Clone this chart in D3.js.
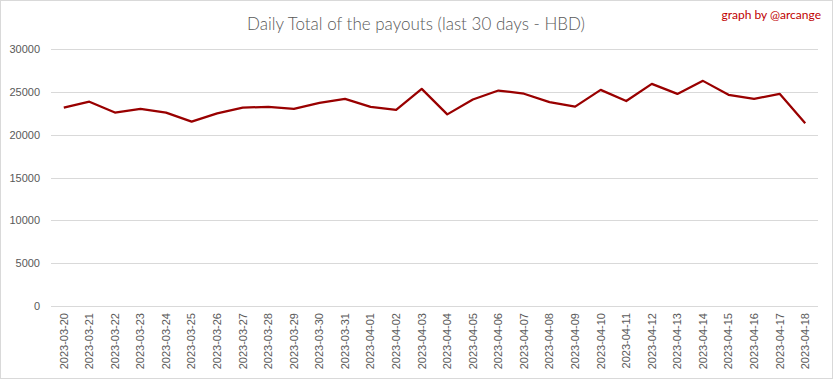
<!DOCTYPE html>
<html>
<head>
<meta charset="utf-8">
<script src="https://cdn.jsdelivr.net/npm/d3@7"></script>
<style>
  body { margin: 0; background: #fff; }
</style>
</head>
<body>
<svg id="chart" width="833" height="379"></svg>
<script>
// data
let dates = ["2023-03-20","2023-03-21","2023-03-22","2023-03-23","2023-03-24","2023-03-25","2023-03-26","2023-03-27","2023-03-28","2023-03-29",
             "2023-03-30","2023-03-31","2023-04-01","2023-04-02","2023-04-03","2023-04-04","2023-04-05","2023-04-06","2023-04-07","2023-04-08",
             "2023-04-09","2023-04-10","2023-04-11","2023-04-12","2023-04-13","2023-04-14","2023-04-15","2023-04-16","2023-04-17","2023-04-18"];
let payouts = [23150, 23850, 22580, 23020, 22580, 21520, 22480, 23160, 23250, 23000,
               23700, 24180, 23250, 22900, 25350, 22370, 24100, 25150, 24780, 23800,
               23270, 25230, 23930, 25930, 24760, 26280, 24650, 24180, 24770, 21320];
let yTicks = [0, 5000, 10000, 15000, 20000, 25000, 30000];

let svg = d3.select("svg#chart");
let margin = { top: 49, right: 15, bottom: 73, left: 51 };
let svg_width = +svg.attr("width");
let svg_height = +svg.attr("height");
let chartWidth = 818 - margin.left;
let chartHeight = 306 - margin.top;

// outer frame
svg.append("rect")
    .attr("x", 0.5).attr("y", 0.5)
    .attr("width", svg_width - 1).attr("height", svg_height - 1)
    .attr("fill", "#fff").attr("stroke", "#d9d9d9");

const xScale = d3.scaleBand().domain(dates).range([0, chartWidth]);
const yScale = d3.scaleLinear().domain([0, 30000]).range([chartHeight, 0]);

let g = svg.append("g")
    .attr("transform", "translate(" + margin.left + "," + margin.top + ")");

// gridlines
g.selectAll("line.grid")
    .data(yTicks)
    .enter().append("line")
    .attr("class", "grid")
    .attr("x1", 0).attr("x2", chartWidth)
    .attr("y1", d => Math.round(yScale(d)) + 0.5)
    .attr("y2", d => Math.round(yScale(d)) + 0.5)
    .attr("stroke", "#d9d9d9").attr("stroke-width", 1);

// Y axis labels
let leftAxis = d3.axisLeft(yScale).tickValues(yTicks).tickSize(0).tickPadding(11).tickFormat(d3.format("d"));
let yAxis = g.append("g").attr("class", "y axis").call(leftAxis);
yAxis.select(".domain").remove();
yAxis.selectAll("text")
    .attr("fill", "#595959")
    .style("font-family", "'Liberation Sans', Arial, sans-serif")
    .style("font-size", "11px");

// X axis labels, rotated
let bottomAxis = d3.axisBottom(xScale).tickSize(0);
let xAxis = g.append("g")
    .attr("class", "x axis")
    .attr("transform", "translate(0," + chartHeight + ")")
    .call(bottomAxis);
xAxis.select(".domain").remove();
xAxis.selectAll("text")
    .attr("fill", "#595959")
    .style("font-family", "'Liberation Sans', Arial, sans-serif")
    .style("font-size", "11px")
    .attr("text-anchor", "end")
    .attr("dy", "0.35em")
    .attr("dx", 0)
    .attr("y", 0)
    .attr("transform", "translate(0,7) rotate(-90)");

// the line
let payLine = d3.line()
    .x((d, i) => xScale(dates[i]) + xScale.bandwidth() / 2)
    .y(d => yScale(d));
g.append("path")
    .datum(payouts)
    .attr("fill", "none")
    .attr("stroke", "#990000")
    .attr("stroke-width", 2.25)
    .attr("stroke-linejoin", "round")
    .attr("d", payLine);

// title and credit
svg.append("text")
    .attr("x", 416).attr("y", 30)
    .attr("text-anchor", "middle")
    .attr("fill", "#595959")
    .style("font-family", "Lato, 'Open Sans', sans-serif")
    .style("font-weight", 300)
    .style("font-size", "17px")
    .text("Daily Total of the payouts (last 30 days - HBD)");

svg.append("text")
    .attr("x", 821).attr("y", 19)
    .attr("text-anchor", "end")
    .attr("fill", "#c00000")
    .style("font-family", "Lato, 'Open Sans', sans-serif")
    .style("font-size", "12px")
    .text("graph by @arcange");
</script>
</body>
</html>
